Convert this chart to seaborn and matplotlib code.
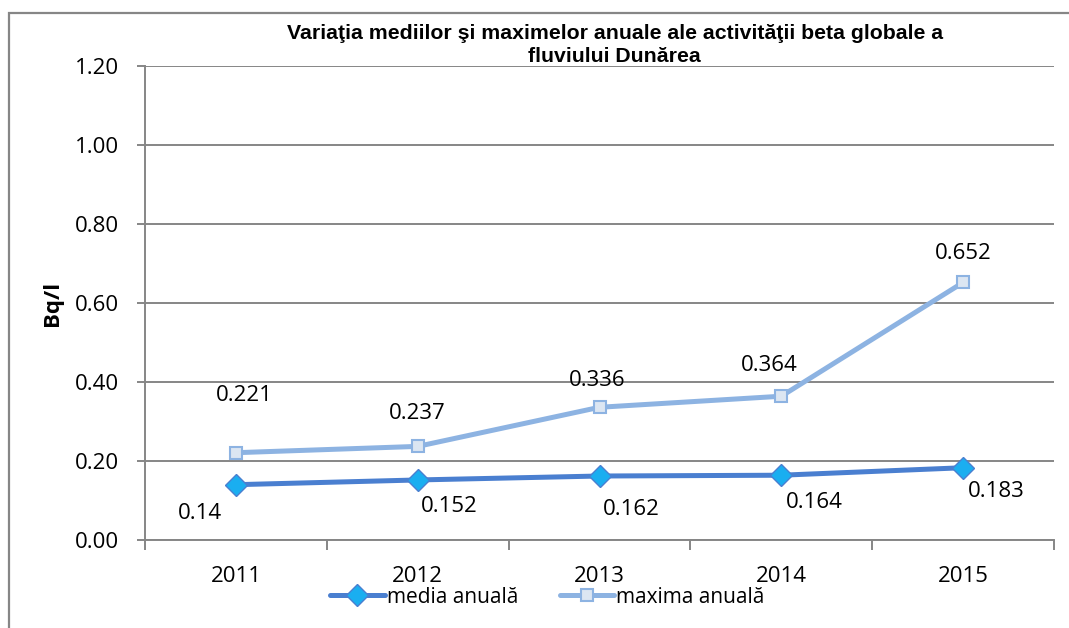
import numpy as np
import pandas as pd
import matplotlib.pyplot as plt
import seaborn as sns
from matplotlib.patches import Rectangle

years = ["2011", "2012", "2013", "2014", "2015"]
media = [0.14, 0.152, 0.162, 0.164, 0.183]
maxima = [0.221, 0.237, 0.336, 0.364, 0.652]
media_labels = ["0.14", "0.152", "0.162", "0.164", "0.183"]
maxima_labels = ["0.221", "0.237", "0.336", "0.364", "0.652"]

TITLE = "Variaţia mediilor şi maximelor anuale ale activităţii beta globale a\nfluviului Dunărea"
GRID = "#868686"
MEDIA_LINE = "#4A7FD0"
MEDIA_MARK = "#1AAEF0"
MAX_LINE = "#8DB3E2"
MAX_MARK = "#DCE6F2"

sns.set_theme(style="white")
plt.rcParams["font.family"] = ["Open Sans", "DejaVu Sans"]
plt.rcParams["text.color"] = "black"
plt.rcParams["xtick.labelcolor"] = "black"
plt.rcParams["ytick.labelcolor"] = "black"
plt.rcParams["axes.labelcolor"] = "black"

fig = plt.figure(figsize=(10.69, 6.28), dpi=100)
ax = fig.add_axes([145 / 1069, 1 - 540 / 628, (1054 - 145) / 1069, (540 - 66) / 628])

df = pd.DataFrame({"year": years, "media": media, "maxima": maxima})

sns.lineplot(data=df, x="year", y="maxima", ax=ax, color=MAX_LINE, linewidth=3.6,
             marker="s", markersize=9, markerfacecolor=MAX_MARK,
             markeredgecolor=MAX_LINE, markeredgewidth=1.5, label="maxima anuală",
             zorder=3)
sns.lineplot(data=df, x="year", y="media", ax=ax, color=MEDIA_LINE, linewidth=3.6,
             marker="D", markersize=11, markerfacecolor=MEDIA_MARK,
             markeredgecolor=MEDIA_LINE, markeredgewidth=1.0, label="media anuală",
             zorder=4)

# data labels (offsets in points, like Excel's auto placement)
max_off = [(6, 41), (0, 24), (-2, 19), (-9, 22), (0, 21)]
med_off = [(-26, -21), (23, -19), (23, -24), (24, -20), (24, -17)]
for i, v in enumerate(maxima):
    ax.annotate(maxima_labels[i], (i, v), xytext=max_off[i], textcoords="offset points",
                ha="center", va="center", fontsize=16)
for i, v in enumerate(media):
    ax.annotate(media_labels[i], (i, v), xytext=med_off[i], textcoords="offset points",
                ha="center", va="center", fontsize=16)

ax.set_ylim(0, 1.2)
ax.set_xlim(-0.5, 4.5)
ax.set_yticks(np.arange(0, 1.21, 0.2))
ax.set_yticklabels([f"{t:.2f}" for t in np.arange(0, 1.21, 0.2)], fontsize=16)
ax.yaxis.grid(True, color=GRID, linewidth=1.4)
ax.set_axisbelow(True)

ax.set_xticks(np.arange(-0.5, 5, 1.0))
ax.set_xticklabels([])
ax.set_xticks(range(len(years)), minor=True)
ax.set_xticklabels(years, minor=True, fontsize=16)
ax.tick_params(axis="x", which="major", length=7, width=1.4, color=GRID, direction="out", bottom=True)
ax.tick_params(axis="x", which="minor", length=0, pad=19)
ax.tick_params(axis="y", length=6, width=1.4, color=GRID, direction="out", left=True, pad=13)

for s in ["top", "right"]:
    ax.spines[s].set_visible(False)
for s in ["left", "bottom"]:
    ax.spines[s].set_color(GRID)
    ax.spines[s].set_linewidth(1.4)

ax.set_xlabel("")
ax.set_ylabel("Bq/l", fontsize=16, fontweight="bold", labelpad=8)

fig.text(0.575, 1 - 45 / 628, TITLE, ha="center", va="center", fontsize=15.3,
         fontweight="bold", family=["Liberation Sans", "DejaVu Sans"], linespacing=1.25)

handles, labels = ax.get_legend_handles_labels()
order = [labels.index("media anuală"), labels.index("maxima anuală")]
ax.legend([handles[k] for k in order], [labels[k] for k in order],
          loc="center", bbox_to_anchor=(0.512, 0.049), bbox_transform=fig.transFigure,
          ncol=2, frameon=False, fontsize=15, handlelength=2.6, columnspacing=2.0,
          handletextpad=0.1, borderaxespad=0)

# outer chart border
fig.patches.append(Rectangle((9 / 1069, -0.1), 1.2, 1.1 - 13 / 628, transform=fig.transFigure,
                             fill=False, edgecolor=GRID, linewidth=1.6))

fig.savefig("out.png", dpi=100)
